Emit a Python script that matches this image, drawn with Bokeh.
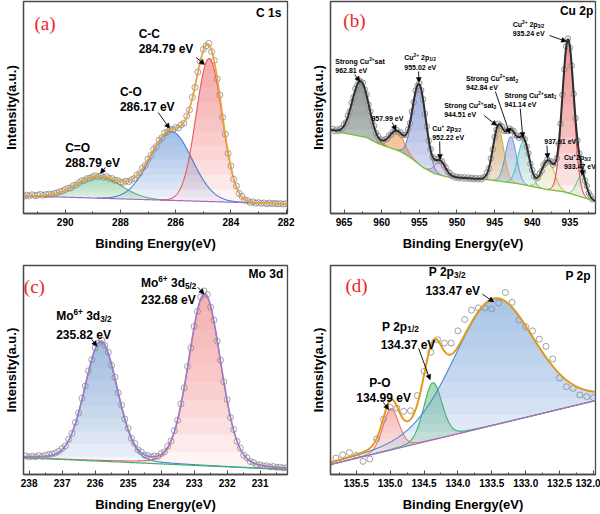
import numpy as np
from bokeh.plotting import figure
from bokeh.layouts import gridplot
from bokeh.models import (Range1d, SingleIntervalTicker, FixedTicker, Arrow,
                          NormalHead, PrintfTickFormatter)
from bokeh.embed import file_html
from bokeh.resources import INLINE
from bokeh.core.properties import value

FONT = "Liberation Sans"
SERIF = "Liberation Serif"

# ---------------- C 1s ----------------
c1s_start, c1s_step = 291.5, 0.1
c1s_counts = [17.2, 18.3, 17.6, 18.8, 17.9, 18.4, 19.1, 18.2, 18.9, 19.4,
              19.0, 20.1, 20.6, 21.8, 22.4, 23.9, 25.2, 25.5, 27.9, 28.6,
              30.8, 32.7, 33.1, 34.9, 35.4, 36.9, 37.8, 36.9, 37.9, 36.2,
              37.0, 35.1, 34.9, 33.2, 33.0, 31.6, 31.1, 32.4, 31.9, 33.8,
              34.9, 38.6, 40.2, 45.5, 48.1, 54.4, 57.9, 64.1, 67.0, 73.1,
              75.8, 80.6, 81.5, 84.3, 83.8, 85.9, 85.4, 88.6, 90.4, 97.5,
              103.6, 116.2, 126.1, 141.4, 151.8, 164.0, 167.5, 170.2, 161.9, 153.0,
              134.6, 118.5, 96.2, 79.4, 60.1, 47.6, 34.3, 27.5, 20.1, 17.2,
              13.6, 12.9, 11.0, 11.6, 10.3, 10.9, 10.1, 10.6, 9.7, 10.4,
              9.8, 10.2, 9.6, 9.9, 9.4, 9.8]
c1s_bg_be = [291.51, 281.95]
c1s_bg = [17.6, 9.6]
c1s_centers = [288.79, 286.17, 284.79]
c1s_heights = [22.0, 69.0, 143.0]
c1s_fwhm = [1.9, 1.8, 1.1]

# ---------------- Cu 2p ----------------
cu_start, cu_step = 966.5, 0.25
cu_counts = [84.6, 82.4,
             83.9, 82.7, 84.9, 85.1,
             89.2, 91.0, 97.8, 102.1,
             110.9, 116.2, 124.8, 128.3,
             133.0, 131.6, 130.7, 124.1,
             118.9, 108.8, 101.9, 92.6,
             87.4, 80.5, 77.6, 73.8,
             73.9, 72.6, 74.3, 74.8,
             78.1, 78.8, 82.0, 81.9,
             83.3, 81.2, 81.1, 78.0,
             78.6, 78.7, 84.1, 90.3,
             101.9, 111.3, 122.8, 127.6,
             130.4, 123.3, 114.2, 99.6,
             87.1, 72.8, 64.4, 56.5,
             54.8, 52.7, 54.2, 52.6,
             52.3, 48.2, 46.1, 41.9,
             40.8, 37.7, 37.8, 35.9,
             36.8, 35.3, 36.4, 35.0,
             36.2, 34.8, 35.9, 34.6,
             35.7, 34.3, 35.4, 34.1,
             35.2, 34.2, 36.1, 36.4,
             41.1, 45.2, 55.0, 64.1,
             76.5, 83.6, 89.7, 88.1,
             86.8, 82.5, 82.9, 82.3,
             84.9, 83.2, 82.6, 78.2,
             77.7, 75.6, 77.6, 75.9,
             74.4, 66.8, 60.1, 49.8,
             43.6, 37.2, 36.4, 35.8,
             39.9, 42.6, 48.5, 50.6,
             53.8, 52.3, 52.0, 48.8,
             50.9, 55.2, 69.9, 89.8,
             118.6, 144.1, 167.2, 175.0,
             165.7, 147.9, 119.6, 95.3,
             72.9, 60.0, 48.5, 41.9,
             32.9, 27.5, 20.6, 17.6,
             14.1]
cu_bg_be = [966.8, 965.5, 964.0, 962.0, 960.5, 959.0, 957.5, 956.0, 954.5, 953.0,
            951.5, 950.0, 948.0, 946.0, 944.0, 942.0, 940.0, 938.0, 936.0, 934.5,
            933.0, 931.6]
cu_bg = [84, 81, 79, 76, 70, 66, 62, 55, 46, 40,
         37, 36, 35, 34, 32, 30, 27, 24, 22, 19,
         15.5, 12]
cu_centers = [962.81, 957.99, 955.02, 952.22, 944.51, 942.84, 941.14, 937.91, 935.24, 933.47]
cu_heights = [55, 19, 80, 14, 53, 46, 44, 29, 153, 21]
cu_fwhm = [2.6, 2.3, 2.1, 1.7, 1.7, 1.7, 1.8, 2.0, 1.8, 1.5]

# ---------------- Mo 3d ----------------
mo_start, mo_step = 238.1, 0.1
mo_counts = [18.9, 17.8, 18.6, 18.0, 19.2, 18.4, 19.6, 20.3, 20.8, 21.9,
             23.6, 26.4, 29.1, 35.6, 41.8, 52.9, 62.4, 77.3, 89.6, 105.2,
             116.5, 128.3, 133.2, 136.1, 130.8, 124.0, 110.7, 98.6, 82.9, 70.4,
             56.3, 46.9, 36.8, 31.4, 25.1, 22.8, 19.5, 19.2, 17.6, 18.7,
             18.3, 21.2, 22.9, 28.6, 33.9, 44.5, 55.1, 71.6, 88.0, 109.5,
             128.6, 150.2, 165.4, 180.1, 186.2, 182.5, 169.8, 156.7, 135.3, 116.0,
             94.1, 76.0, 57.8, 45.6, 33.5, 26.8, 19.8, 16.9, 13.2, 12.1,
             10.0, 9.7, 8.6, 8.9, 7.7, 8.1, 7.2, 7.5, 6.6, 6.9]
mo_bg_be = [238.17, 230.17]
mo_bg = [17.0, 5.0]
mo_centers = [235.82, 232.68]
mo_heights = [121.0, 174.0]
mo_fwhm = [1.17, 1.15]

# ---------------- P 2p ----------------
p_start, p_step = 135.9, 0.1
p_counts = [11.3, 16.7, 20.0, 22.3, 19.5, 13.3, 15.7, 36.0, 56.0, 68.0,
            67.3, 64.0, 64.7, 80.0, 104.7, 124.0, 136.7, 133.3, 133.3, 145.7,
            157.3, 166.7, 169.0, 169.0, 168.0, 174.0, 184.7, 174.7, 156.7, 150.0,
            145.7, 137.3, 130.0, 117.3, 98.0, 89.0, 87.3, 80.7, 79.0, 78.0]
p_bg_be = [135.88, 131.97]
p_bg = [10.0, 75.0]
p_centers = [134.99, 134.37, 133.47]
p_heights = [42.0, 58.0, 128.0]
p_fwhm = [0.28, 0.32, 1.4]

# approximate Arial-bold advance widths (em) for placing sub/superscripts
ADV = {c: 0.556 for c in "0123456789"}
ADV.update({".": 0.278, " ": 0.278, "e": 0.556, "V": 0.667, "C": 0.722, "u": 0.611,
            "p": 0.611, "M": 0.833, "o": 0.611, "d": 0.611, "S": 0.667, "t": 0.333,
            "r": 0.389, "n": 0.611, "g": 0.611, "s": 0.556, "a": 0.556, "+": 0.584,
            "/": 0.278, "P": 0.667, "-": 0.333, "O": 0.778, "=": 0.584})


def text_px(s, size):
    return sum(ADV.get(ch, 0.6) for ch in s) * size


def peak(x, center, height, fwhm, eta=0.0):
    u = (x - center) / fwhm
    g = np.exp(-4.0 * np.log(2.0) * u ** 2)
    lor = 1.0 / (1.0 + 4.0 * u ** 2)
    return height * ((1.0 - eta) * g + eta * lor)


def gradient_fill(p, x, base, top, color, layers=10, alpha=0.09):
    lo = float(np.min(base))
    hi = float(np.max(top))
    for k in range(layers):
        lvl = lo + (hi - lo) * k / layers
        y1 = np.maximum(base, lvl)
        y2 = np.maximum(top, y1)
        p.varea(x=x, y1=y1, y2=y2, fill_color=color, fill_alpha=alpha)


def rich_text(p, x, y, parts, size, color="#000000"):
    """Draw a run of normal / superscript / subscript pieces side by side."""
    off = 0.0
    for s, kind in parts:
        fs = size if kind == "n" else round(size * 0.68, 1)
        dy = {"n": 0.0, "sup": -0.36 * size, "sub": 0.26 * size}[kind]
        lead = len(s) - len(s.lstrip(" "))
        off += text_px(" " * lead, fs)
        s = s.lstrip(" ")
        p.text(x=[x], y=[y], text=[s], x_offset=off, y_offset=dy,
               text_font=value(FONT), text_font_size=f"{fs}px", text_font_style="bold",
               text_color=color, text_align="left", text_baseline="middle")
        off += text_px(s, fs)


def arrow(p, x0, y0, x1, y1):
    p.add_layout(Arrow(end=NormalHead(size=5, fill_color="black", line_color="black", line_width=0.5),
                       x_start=x0, y_start=y0, x_end=x1, y_end=y1,
                       line_color="black", line_width=0.9))


def make_panel(xr, interval, fmt, left, right, top, bottom):
    p = figure(width=300, height=257, x_range=Range1d(*xr), y_range=Range1d(0, 212),
               output_backend="svg", toolbar_location=None,
               min_border_left=left, min_border_right=right,
               min_border_top=top, min_border_bottom=bottom)
    p.grid.visible = False
    p.background_fill_color = "white"
    p.border_fill_color = "white"
    p.outline_line_color = "#4a4a4a"
    p.outline_line_width = 1.3
    xa = p.xaxis[0]
    xa.ticker = SingleIntervalTicker(interval=interval, num_minor_ticks=2)
    if fmt:
        xa.formatter = PrintfTickFormatter(format=fmt)
    xa.axis_label = "Binding Energy(eV)"
    ya = p.yaxis[0]
    ya.ticker = FixedTicker(ticks=[])
    ya.axis_label = "Intensity(a.u.)"
    for ax in (xa, ya):
        ax.axis_label_text_font = FONT
        ax.axis_label_text_font_style = "bold"
        ax.axis_label_text_font_size = "13px"
        ax.axis_label_text_color = "black"
        ax.major_label_text_font = FONT
        ax.major_label_text_font_style = "bold"
        ax.major_label_text_font_size = "10px"
        ax.major_label_text_color = "black"
        ax.axis_line_color = "#4a4a4a"
        ax.axis_line_width = 1.3
        ax.major_tick_line_color = "#4a4a4a"
        ax.minor_tick_line_color = "#4a4a4a"
        ax.major_tick_out = 0
        ax.minor_tick_out = 0
    xa.major_tick_in = 4
    xa.minor_tick_in = 2
    xa.major_label_standoff = 4
    xa.axis_label_standoff = 7
    ya.major_tick_in = 0
    ya.minor_tick_in = 0
    ya.major_label_standoff = 0
    ya.axis_label_standoff = 5
    return p


def panel_letter(p, x, y, s):
    p.text(x=[x], y=[y], text=[s], text_font=value(SERIF), text_font_size="19px",
           text_color="#ee1c25", text_align="left", text_baseline="middle")


def panel_title(p, x, y, s):
    p.text(x=[x], y=[y], text=[s], text_font=value(FONT), text_font_size="12px",
           text_font_style="bold", text_color="black", text_align="right",
           text_baseline="middle")


# ===== (a) C 1s =====
pa = make_panel((291.51, 281.95), 2, None, 21, 13, 1, 44)
xa_f = np.linspace(281.95, 291.51, 700)
bg_a = np.interp(xa_f, c1s_bg_be[::-1], c1s_bg[::-1])
a_line = ["#4fb366", "#3f7fd0", "#f05555"]
a_fill = ["#7cc68d", "#6f9be0", "#f07b7b"]
comps_a = [peak(xa_f, c, h, f) for c, h, f in zip(c1s_centers, c1s_heights, c1s_fwhm)]
for comp, fc in zip(comps_a, a_fill):
    gradient_fill(pa, xa_f, bg_a, bg_a + comp, fc)
for comp, lc in zip(comps_a, a_line):
    pa.line(xa_f, np.where(comp > 0.15, bg_a + comp, np.nan), line_color=lc, line_width=1.1)
pa.line(xa_f, bg_a, line_color="#a36ac7", line_width=1.2)
c1s_be = c1s_start - c1s_step * np.arange(len(c1s_counts))
pa.scatter(c1s_be, c1s_counts, size=6, marker="circle", fill_color=None,
           line_color="#8a8a8a", line_width=0.8)
pa.line(xa_f, bg_a + sum(comps_a), line_color="#e8a33d", line_width=1.8)
panel_letter(pa, 291.11, 190, "(a)")
panel_title(pa, 282.17, 201, "C 1s")
rich_text(pa, 287.34, 180, [("C-C", "n")], 12)
rich_text(pa, 287.34, 165, [("284.79 eV", "n")], 12)
rich_text(pa, 288.02, 122, [("C-O", "n")], 12)
rich_text(pa, 288.02, 107, [("286.17 eV", "n")], 12)
rich_text(pa, 290.0, 66, [("C=O", "n")], 12)
rich_text(pa, 290.0, 51, [("288.79 eV", "n")], 12)
arrow(pa, 285.26, 156, 284.95, 149)
arrow(pa, 286.63, 101, 286.22, 85)
arrow(pa, 288.55, 46, 288.72, 40)

# ===== (b) Cu 2p =====
pb = make_panel((966.8, 931.6), 5, None, 30, 5, 1, 44)
xb_f = np.linspace(931.6, 966.8, 1400)
bg_b = np.interp(xb_f, cu_bg_be[::-1], cu_bg[::-1])
b_line = ["#4a4a4a", "#f07f22", "#3b6fd1", "#9b5fc0", "#e0a526",
          "#4d8fe0", "#1fc2c2", "#b0b02a", "#e8202a", "#3cc46c"]
b_fill = ["#55665f", "#f09a4a", "#6f86cf", "#b08ad4", "#c99a55",
          "#93a6cf", "#8cc7c7", "#d8d47a", "#ee5a5a", "#8fd4a5"]
comps_b = [peak(xb_f, c, h, f) for c, h, f in zip(cu_centers, cu_heights, cu_fwhm)]
for comp, fc in zip(comps_b, b_fill):
    gradient_fill(pb, xb_f, bg_b, bg_b + comp, fc)
for comp, lc in zip(comps_b, b_line):
    pb.line(xb_f, np.where(comp > 0.3, bg_b + comp, np.nan), line_color=lc, line_width=1.0)
pb.line(xb_f, bg_b, line_color="#7ac142", line_width=1.4)
cu_be = cu_start - cu_step * np.arange(len(cu_counts))
pb.scatter(cu_be, cu_counts, size=5.5, marker="circle", fill_color="#dcdcdc", fill_alpha=0.4,
           line_color="#808080", line_width=0.8)
pb.line(xb_f, bg_b + sum(comps_b), line_color="#2e2e2e", line_width=2.0)
panel_letter(pb, 965.1, 193, "(b)")
panel_title(pb, 931.9, 203, "Cu 2p")
cu_labels = [
    (966.16, 152, [("Strong Cu", "n"), ("2+", "sup"), ("sat", "n")]),
    (966.16, 143, [("962.81 eV", "n")]),
    (957.0, 155.7, [("Cu", "n"), ("2+", "sup"), (" 2p", "n"), ("1/2", "sub")]),
    (957.0, 146.3, [("955.02 eV", "n")]),
    (961.37, 94.7, [("957.99 eV", "n")]),
    (953.3, 84.7, [("Cu", "n"), ("+", "sup"), (" 2p", "n"), ("3/2", "sub")]),
    (953.3, 75.7, [("952.22 eV", "n")]),
    (948.8, 134.7, [("Strong Cu", "n"), ("2+", "sup"), ("sat", "n"), ("2", "sub")]),
    (948.8, 125.7, [("942.84 eV", "n")]),
    (943.7, 118, [("Strong Cu", "n"), ("2+", "sup"), ("sat", "n"), ("1", "sub")]),
    (943.7, 109, [("941.14 eV", "n")]),
    (951.7, 108, [("Strong Cu", "n"), ("2+", "sup"), ("sat", "n"), ("3", "sub")]),
    (951.7, 99, [("944.51 eV", "n")]),
    (938.4, 72.3, [("937.91 eV", "n")]),
    (942.6, 188.7, [("Cu", "n"), ("2+", "sup"), (" 2p", "n"), ("3/2", "sub")]),
    (942.6, 179.7, [("935.24 eV", "n")]),
    (935.8, 55.7, [("Cu", "n"), ("+", "sup"), ("2p", "n"), ("3/2", "sub")]),
    (935.8, 47, [("933.47 eV", "n")]),
]
for x, y, parts in cu_labels:
    rich_text(pb, x, y, parts, 7)
arrow(pb, 963.6, 139, 962.9, 132)
arrow(pb, 955.1, 142, 955.05, 131)
arrow(pb, 958.6, 91, 958.1, 83)
arrow(pb, 952.3, 72, 952.25, 54)
arrow(pb, 946.4, 98, 944.7, 88)
arrow(pb, 944.9, 122, 943.0, 80)
arrow(pb, 941.6, 105, 941.25, 76)
arrow(pb, 938.05, 68, 937.95, 55)
arrow(pb, 937.7, 178, 935.45, 172)
arrow(pb, 933.3, 43, 933.4, 38)

# ===== (c) Mo 3d =====
pc = make_panel((238.17, 230.17), 1, None, 21, 13, 7, 38)
xc_f = np.linspace(230.17, 238.17, 700)
bg_c = np.interp(xc_f, mo_bg_be[::-1], mo_bg[::-1])
c_line = ["#4a7fd0", "#ee5a6a"]
c_fill = ["#6f9bd6", "#f08a8a"]
comps_c = [peak(xc_f, c, h, f, 0.15) for c, h, f in zip(mo_centers, mo_heights, mo_fwhm)]
for comp, fc in zip(comps_c, c_fill):
    gradient_fill(pc, xc_f, bg_c, bg_c + comp, fc)
for comp, lc in zip(comps_c, c_line):
    pc.line(xc_f, bg_c + comp, line_color=lc, line_width=1.1)
pc.line(xc_f, bg_c, line_color="#3cb371", line_width=1.2)
mo_be = mo_start - mo_step * np.arange(len(mo_counts))
pc.scatter(mo_be, mo_counts, size=6, marker="circle", fill_color=None,
           line_color="#8a8a8a", line_width=0.8)
pc.line(xc_f, bg_c + sum(comps_c), line_color="#9c7cc9", line_width=1.6)
panel_letter(pc, 238.16, 190.7, "(c)")
panel_title(pc, 230.3, 203, "Mo 3d")
rich_text(pc, 234.61, 194, [("Mo", "n"), ("6+", "sup"), (" 3d", "n"), ("5/2", "sub")], 12)
rich_text(pc, 234.61, 177.3, [("232.68 eV", "n")], 12)
rich_text(pc, 237.18, 160.7, [("Mo", "n"), ("6+", "sup"), (" 3d", "n"), ("3/2", "sub")], 12)
rich_text(pc, 237.18, 141.7, [("235.82 eV", "n")], 12)
arrow(pc, 232.89, 190, 232.7, 183)
arrow(pc, 236.1, 137, 235.95, 130)

# ===== (d) P 2p =====
pd_ = make_panel((135.88, 131.97), 0.5, "%.1f", 30, 5, 8, 37)
xd_f = np.linspace(131.97, 135.88, 700)
bg_d = np.interp(xd_f, p_bg_be[::-1], p_bg[::-1])
d_line = ["#f07070", "#3cb371", "#4a86d4"]
d_fill = ["#f08c8c", "#6cc48a", "#7aa4de"]
comps_d = [peak(xd_f, c, h, f, 0.2) for c, h, f in zip(p_centers, p_heights, p_fwhm)]
for comp, fc in zip(comps_d, d_fill):
    gradient_fill(pd_, xd_f, bg_d, bg_d + comp, fc)
for comp, lc in zip(comps_d, d_line):
    pd_.line(xd_f, bg_d + comp, line_color=lc, line_width=1.1)
pd_.line(xd_f, bg_d, line_color="#a070c8", line_width=1.2)
p_be = p_start - p_step * np.arange(len(p_counts))
pd_.scatter(p_be, p_counts, size=6, marker="circle", fill_color=None,
            line_color="#8a8a8a", line_width=0.8)
pd_.line(xd_f, bg_d + sum(comps_d), line_color="#e09a1c", line_width=2.0)
panel_letter(pd_, 135.66, 191.7, "(d)")
panel_title(pd_, 132.04, 201.7, "P 2p")
rich_text(pd_, 134.43, 205, [("P 2p", "n"), ("3/2", "sub")], 12)
rich_text(pd_, 134.48, 186, [("133.47 eV", "n")], 12)
rich_text(pd_, 135.12, 150, [("P 2p", "n"), ("1/2", "sub")], 12)
rich_text(pd_, 135.14, 131.7, [("134.37 eV", "n")], 12)
rich_text(pd_, 135.31, 93.3, [("P-O", "n")], 12)
rich_text(pd_, 135.5, 77.3, [("134.99 eV", "n")], 12)
arrow(pd_, 133.64, 183, 133.47, 175)
arrow(pd_, 134.58, 128, 134.41, 96)
arrow(pd_, 135.1, 73, 135.02, 66)

grid = gridplot([[pa, pb], [pc, pd_]], toolbar_location=None)
open("out.html", "w").write(file_html(grid, INLINE))
